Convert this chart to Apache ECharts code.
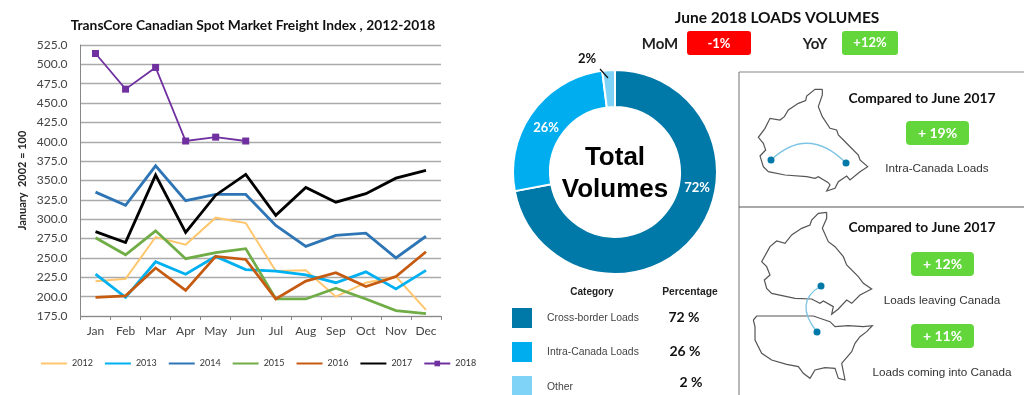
<!DOCTYPE html>
<html><head><meta charset="utf-8">
<style>html,body{margin:0;padding:0;background:#fff}#c{width:1024px;height:395px}</style>
<script src="https://cdn.jsdelivr.net/npm/echarts@6/dist/echarts.min.js"></script>
</head><body><div id="c"></div>
<script>
const months=['Jan','Feb','Mar','Apr','May','Jun','Jul','Aug','Sep','Oct','Nov','Dec'];
const s2012=[220,223,277,267,302,295,233,234,200,218,226,183];
const s2013=[229,199,245,229,252,235,233,228,218,232,210,234];
const s2014=[335,318,369,324,332,332,292,265,279,282,250,278];
const s2015=[276,254,285,249,257,262,197,197,211,197,182,178];
const s2016=[199,201,237,208,252,248,197,220,231,213,226,258];
const s2017=[284,270,357,283,331,358,305,341,322,333,353,363];
const s2018=[514,468,496,401,406,401];
const shareNames=['Cross-border Loads','Intra-Canada Loads','Other'];
const shareValues=[72,26,2];
const shareColors=['#0078A8','#00AEEF','#7FD3F7'];
const lineColors=['#FFC66D','#00B0F0','#2E75B6','#70AD47','#C55A11','#000000','#7030A0'];

const calibri='Lato, Carlito, sans-serif', arial='"Liberation Sans", Arial, sans-serif';
const mkLine=(name,data,i,w)=>({name,type:'line',data,symbol:'none',smooth:false,
  lineStyle:{color:lineColors[i],width:w,join:'miter'},itemStyle:{color:lineColors[i]},z:3+i});

// Outline traces, in zoom-crop coordinates
const toPts=(a,ox,oy)=>a.map(p=>[ox+p[0]/3,oy+p[1]/3]);
const canadaA=[[262,88],[240,88],[215,108],[212,122],[190,130],[160,150],[148,170],[135,180],[105,175],[90,205],[70,232],[85,250],[92,270],[75,288],[85,320],[100,335],[150,345],[215,350],[240,355],[250,350],[280,368],[285,375],[275,393],[300,385],[310,365],[335,348],[345,360],[375,335],[398,320],[375,300],[370,285],[340,255],[310,225],[305,210],[285,205],[262,170],[250,140],[262,105],[262,88]];
const canadaB=[[275,22],[250,25],[230,45],[225,60],[200,70],[170,90],[150,115],[125,108],[105,125],[80,170],[95,185],[105,210],[88,225],[95,250],[110,265],[180,280],[230,282],[255,295],[265,288],[295,305],[290,328],[310,312],[335,285],[350,295],[375,270],[410,252],[385,235],[370,215],[335,180],[325,155],[300,125],[280,110],[262,70],[275,40],[275,22]];
const usa=[[55,345],[65,333],[235,333],[285,350],[300,365],[340,362],[385,365],[412,362],[395,380],[375,395],[360,415],[350,440],[320,475],[330,525],[310,520],[300,490],[270,488],[240,495],[225,520],[205,505],[190,485],[155,478],[110,465],[80,445],[60,405],[60,365],[55,345]];

const txt=(text,x,y,font,size,weight,fill,align)=>({type:'text',x,y,z:20,style:{text,font:`${weight} ${size}px ${font}`,fill:fill||'#111',textAlign:align||'center',textVerticalAlign:'middle'}});
const box=(x,y,w,h,fill,r)=>({type:'rect',z:10,shape:{x,y,width:w,height:h,r:r||0},style:{fill}});
const outline=(pts)=>({type:'polyline',z:11,shape:{points:pts},style:{stroke:'#555',lineWidth:1.2,fill:'none'}});
const rule=(x1,y1,x2,y2,c,w)=>({type:'line',z:11,shape:{x1,y1,x2,y2},style:{stroke:c,lineWidth:w}});
const dot=(x,y)=>({type:'circle',z:13,shape:{cx:x,cy:y,r:3.5},style:{fill:'#0078A8'}});
const arc=(x1,y1,cx,cy,x2,y2)=>({type:'bezierCurve',z:12,shape:{x1,y1,cpx1:cx,cpy1:cy,x2,y2},style:{stroke:'#7CC4E4',lineWidth:1.3,fill:'none'}});

const G='#63D63C';
const graphics=[
  txt('TransCore Canadian Spot Market Freight Index , 2012-2018',253,26,calibri,13.8,'bold','#111'),
  txt('June 2018 LOADS VOLUMES',777,18,calibri,15.5,'bold','#111'),
  txt('MoM',660,44,calibri,15,'bold','#222'),
  box(687,31,64,24,'#FF0000',3), txt('-1%',719,44,calibri,13,'bold','#fff'),
  txt('YoY',815,44,calibri,15,'bold','#222'),
  box(842,31,56,24,G,3), txt('+12%',870,43,calibri,13,'bold','#fff'),
  txt('Total',615,158,arial,26,'bold','#000'),
  txt('Volumes',615,190,arial,26,'bold','#000'),
  rule(600,69,608,78,'#111',1.2),
  // table
  txt('Category',592,292,arial,10,'bold','#222'),
  txt('Percentage',690,292,arial,10.3,'bold','#222'),
  // panels
  rule(739,72,1024,72,'#888',1.2), rule(739,72,739,395,'#888',1.2), rule(739,207,1024,207,'#555',1),
  outline(toPts(canadaA,735,60)), arc(771,160,808,125,846,163), dot(771,160), dot(846,163),
  txt('Compared to June 2017',922,99,calibri,13.8,'bold','#111'),
  box(906,121,63,24,G,4), txt('+ 19%',937.5,133,calibri,14,'bold','#fff'),
  txt('Intra-Canada Loads',937,169,arial,11.7,'normal','#333'),
  outline(toPts(canadaB,735,205)), outline(toPts(usa,735,205)),
  arc(821,286,793,302,817,332), dot(821,286), dot(817,332),
  txt('Compared to June 2017',922,228,calibri,13.8,'bold','#111'),
  box(911,252,63,24,G,4), txt('+ 12%',942.5,264,calibri,14,'bold','#fff'),
  txt('Loads leaving Canada',942,301,arial,11.7,'normal','#333'),
  box(911,324,63,24,G,4), txt('+ 11%',942.5,336,calibri,14,'bold','#fff'),
  txt('Loads coming into Canada',942,373,arial,11.7,'normal','#333')
];
const rowY=[318,352,386], valX=[684,685,691], valY=[317,351,382];
shareNames.forEach((n,i)=>{
  graphics.push(box(512,rowY[i]-10,20,20,shareColors[i]));
  graphics.push(txt(n,547,rowY[i]-(i==2?-1:0),arial,10.4,'normal','#444','left'));
  graphics.push(txt(shareValues[i]+' %',valX[i],valY[i],calibri,14,'bold','#111'));
});

const labelSpots=[[697,188],[546,128],[587,59]];
const plainKey=name=>({name,itemStyle:{opacity:0}});
const chart=echarts.init(document.getElementById('c'),null,{renderer:'canvas'});
chart.setOption({
  animation:false,backgroundColor:'#fff',
  grid:{left:80.5,right:583,top:45,bottom:79,containLabel:false},
  legend:{left:35,top:354,itemWidth:26,itemHeight:7,itemGap:11,
    data:[plainKey('2012'),plainKey('2013'),plainKey('2014'),plainKey('2015'),plainKey('2016'),plainKey('2017'),{name:'2018'}],
    textStyle:{fontFamily:calibri,fontSize:9,color:'#333'}},
  xAxis:{type:'category',data:months,boundaryGap:true,
    axisLine:{lineStyle:{color:'#888',width:1}},
    axisTick:{show:true,alignWithLabel:false,length:4,lineStyle:{color:'#888'}},
    axisLabel:{fontFamily:calibri,fontSize:12,color:'#444',margin:9,interval:0},splitLine:{show:false}},
  yAxis:{type:'value',min:175,max:525,interval:25,
    name:'January  2002 = 100',nameLocation:'middle',nameGap:53,nameRotate:90,
    nameTextStyle:{fontFamily:calibri,fontSize:11,fontWeight:'bold',color:'#222'},
    axisLine:{show:true,lineStyle:{color:'#888'}},axisTick:{show:false},
    axisLabel:{fontFamily:calibri,fontSize:12,color:'#444',margin:13,formatter:v=>v.toFixed(1)},
    splitLine:{show:true,lineStyle:{color:'#AAAAAA',width:1.3}}},
  series:[
    mkLine('2012',s2012,0,2),mkLine('2013',s2013,1,2.8),mkLine('2014',s2014,2,2.8),
    mkLine('2015',s2015,3,2.8),mkLine('2016',s2016,4,2.8),mkLine('2017',s2017,5,2.8),
    Object.assign(mkLine('2018',s2018,6,1.8),{symbol:'rect',symbolSize:7}),
    {type:'pie',center:[615,172],radius:[65,102],startAngle:90,clockwise:true,silent:true,
     legendHoverLink:false,
     data:shareNames.map((n,i)=>({name:n,value:shareValues[i],itemStyle:{color:shareColors[i]},label:i==2?{color:'#111'}:{}})),
     itemStyle:{borderColor:'#fff',borderWidth:2},
     label:{show:true,position:'inside',formatter:p=>p.value+'%',fontFamily:calibri,fontSize:13,fontWeight:'bold',color:'#fff'},
     labelLine:{show:false},
     labelLayout:p=>({x:labelSpots[p.dataIndex][0],y:labelSpots[p.dataIndex][1],align:'center',verticalAlign:'middle'})
    }
  ],
  graphic:graphics
});
</script></body></html>
